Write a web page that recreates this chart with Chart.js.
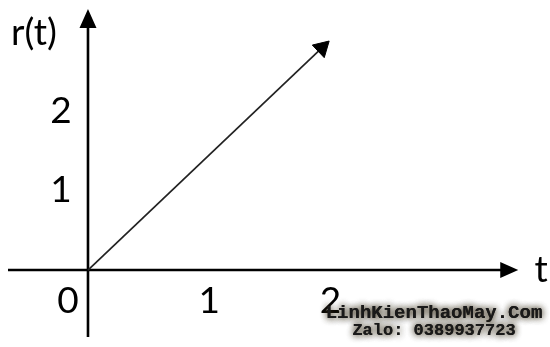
<!DOCTYPE html>
<html>
<head>
<meta charset="utf-8">
<script src="https://cdn.jsdelivr.net/npm/chart.js@4"></script>
<style>
  html, body { margin: 0; padding: 0; background: #fff; }
</style>
</head>
<body>
<canvas id="myChart" width="550" height="347"></canvas>
<script>
// ----------------------------------------------------------------------DATA
const timeValues = [0, 1.93];
const rampValues = [0, 2.79];
const xTickValues = [1, 2];
const yTickValues = [1, 2];
const xAxisName = "t";
const yAxisName = "r(t)";
const watermarkLines = ["LinhKienThaoMay.Com", "Zalo: 0389937723"];

// visible span of each scale, and how far the drawn axes reach
const xRange = [-0.726, 3.812];
const yRange = [-0.967, 3.392];
const xAxisSpan = [-0.66, 3.55];
const yAxisSpan = [-0.84, 3.28];

const graph = document.querySelector("#myChart");
const labelFont = '37px Lato, "Open Sans", sans-serif';

// -----------------------------------------------------------------------PLUGINS
//     axis lines with arrow heads, tick numbers and axis names
const axesPlugin = {
  id: "axes",
  beforeDatasetsDraw(chart) {
    const { ctx } = chart;
    const { x, y } = chart.scales;
    const x0 = x.getPixelForValue(0);
    const y0 = y.getPixelForValue(0);
    const xTip = x.getPixelForValue(xAxisSpan[1]);
    const yTip = y.getPixelForValue(yAxisSpan[1]);

    ctx.save();
    ctx.strokeStyle = "#000";
    ctx.fillStyle = "#000";
    ctx.lineWidth = 2.6;

    ctx.beginPath();
    ctx.moveTo(x.getPixelForValue(xAxisSpan[0]), y0);
    ctx.lineTo(xTip - 12, y0);
    ctx.moveTo(x0, y.getPixelForValue(yAxisSpan[0]));
    ctx.lineTo(x0, yTip + 12);
    ctx.stroke();

    ctx.beginPath();
    ctx.moveTo(xTip, y0);
    ctx.lineTo(xTip - 18, y0 - 8);
    ctx.lineTo(xTip - 18, y0 + 8);
    ctx.closePath();
    ctx.moveTo(x0, yTip);
    ctx.lineTo(x0 - 8.5, yTip + 19);
    ctx.lineTo(x0 + 8.5, yTip + 19);
    ctx.closePath();
    ctx.fill();

    ctx.font = labelFont;
    ctx.textAlign = "center";
    ctx.textBaseline = "middle";
    xTickValues.forEach((v) => {
      ctx.fillText(String(v), x.getPixelForValue(v), y0 + 31);
    });
    yTickValues.forEach((v) => {
      ctx.fillText(String(v), x0 - 27, y.getPixelForValue(v));
    });
    ctx.fillText("0", x0 - 20, y0 + 31);
    ctx.fillText(xAxisName, xTip + 23, y0);
    ctx.fillText(yAxisName, x0 - 54, yTip + 24);
    ctx.restore();
  },
};

//     site stamp in the lower right corner
const stampPlugin = {
  id: "stamp",
  afterDraw(chart) {
    const { ctx } = chart;
    ctx.save();
    ctx.textAlign = "center";
    ctx.textBaseline = "middle";
    ctx.fillStyle = "#1a1a1a";
    ctx.shadowColor = "rgba(60, 50, 30, 0.85)";
    ctx.shadowBlur = 7;
    ctx.font = 'bold 19px "Liberation Mono", monospace';
    ctx.fillText(watermarkLines[0], 434, 313);
    ctx.fillText(watermarkLines[0], 434, 313);
    ctx.font = 'bold 17px "Liberation Mono", monospace';
    ctx.fillText(watermarkLines[1], 434, 331);
    ctx.fillText(watermarkLines[1], 434, 331);
    ctx.restore();
  },
};

// -----------------------------------------------------------------------CHART
const rampPoints = timeValues.map((t, i) => ({ x: t, y: rampValues[i] }));

//     turn the end marker so it points along the ramp
const tipRotation = (context) => {
  const { x, y } = context.chart.scales;
  const dx = x.getPixelForValue(timeValues[1]) - x.getPixelForValue(timeValues[0]);
  const dy = y.getPixelForValue(rampValues[1]) - y.getPixelForValue(rampValues[0]);
  return (Math.atan2(dx, -dy) * 180) / Math.PI;
};

new Chart(graph, {
  type: "line",
  data: {
    datasets: [
      {
        data: rampPoints,
        borderColor: "#222",
        borderWidth: 1.7,
        pointStyle: "triangle",
        pointRadius: [0, 10],
        pointRotation: tipRotation,
        pointBackgroundColor: "#000",
        pointBorderColor: "#000",
        pointBorderWidth: 1,
      },
    ],
  },
  options: {
    responsive: false,
    animation: false,
    layout: { padding: 0, autoPadding: false },
    scales: {
      x: { type: "linear", min: xRange[0], max: xRange[1], display: false },
      y: { type: "linear", min: yRange[0], max: yRange[1], display: false },
    },
    plugins: {
      legend: { display: false },
      tooltip: { enabled: false },
    },
  },
  plugins: [axesPlugin, stampPlugin],
});
</script>
</body>
</html>
